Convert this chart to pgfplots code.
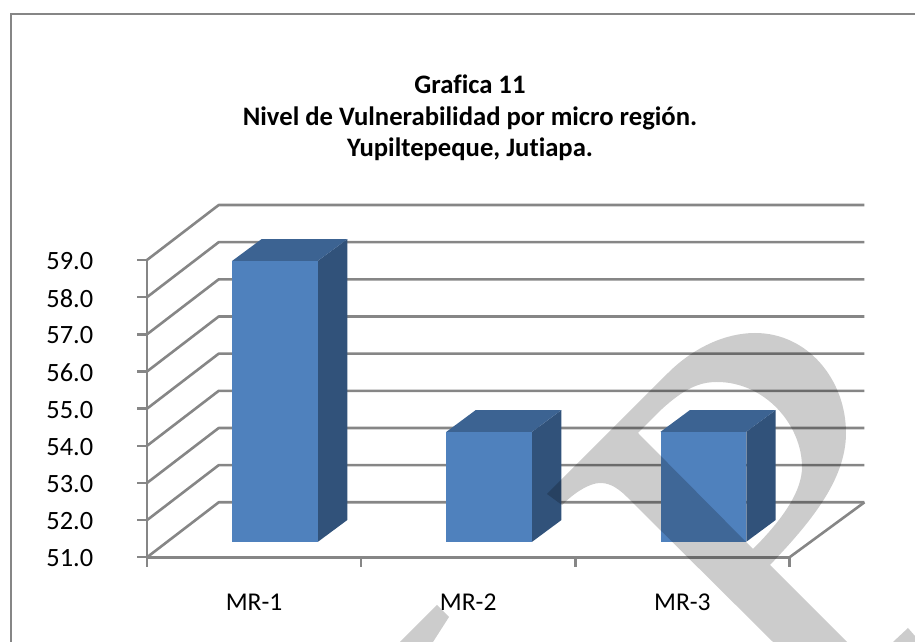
\documentclass[border=0pt]{standalone}
\usepackage{pgfplots}
\pgfplotsset{compat=1.18}
\usepackage{fontspec}
\setmainfont[Ligatures=NoCommon]{Carlito}
\newlength\p
\setlength\p{0.75pt}
\definecolor{gridc}{HTML}{868686}
\definecolor{front}{HTML}{4F81BD}
\definecolor{topf}{HTML}{3C6392}
\definecolor{sidef}{HTML}{31527A}
% grid line: left wall diagonal, then back wall (value, value seen on the back wall)
\newcommand\gl[2]{\addplot[gridc,line width=2.6\p,line join=round] coordinates {(0,#1)(0.335,#2)(3.35,#2)};}
% bar: left x, right x, value
\newcommand\barr[3]{%
  \addplot[draw=none,fill=front,shift={(21\p,15.5\p)}] coordinates {(#1,51)(#2,51)(#2,#3)(#1,#3)} -- cycle;
}
\begin{document}
\begin{tikzpicture}
\useasboundingbox (-147\p,557.3\p-642\p) rectangle (915\p-147\p,557.3\p);
\begin{axis}[
  anchor=south west, at={(0,0)},
  scale only axis, width=642.5\p, height=297.3\p,
  xmin=0, xmax=3, ymin=51, ymax=59, clip=false,
  axis x line*=bottom, axis y line*=left,
  axis line style={gridc,line width=2.6\p,-},
  tick style={gridc,line width=2.4\p},
  major tick length=9.5\p, tick align=outside,
  xtick={0,1,2,3}, xticklabels={},
  extra x ticks={0.5,1.5,2.5},
  extra x tick labels={MR-1,MR-2,MR-3},
  extra x tick style={tick style={draw=none},
    xticklabel style={anchor=base,yshift=-43.5\p}},
  ytick={51,52,53,54,55,56,57,58,59},
  yticklabel style={anchor=east,xshift=-39.5\p,yshift=-1\p,font=\fontsize{19.8pt}{21pt}\selectfont},
  xticklabel style={font=\fontsize{19.2pt}{21pt}\selectfont},
  /pgf/number format/.cd, fixed, fixed zerofill, precision=1, assume math mode=true, /pgfplots/.cd,
]
\gl{51}{52.48}\gl{52}{53.48}\gl{53}{54.48}\gl{54}{55.48}\gl{55}{56.48}
\gl{56}{57.48}\gl{57}{58.48}\gl{58}{59.48}\gl{59}{60.48}
\addplot[gridc,line width=2.6\p] coordinates {(3,51)(3.35,52.48)};
% MR-1
\addplot[draw=none,fill=sidef,shift={(21\p,15.5\p)}] coordinates {(0.7,51)(0.837,51.585)(0.837,59.145)(0.7,58.56)} -- cycle;
\addplot[draw=none,fill=topf,shift={(21\p,15.5\p)}] coordinates {(0.3,58.56)(0.7,58.56)(0.837,59.145)(0.437,59.145)} -- cycle;
\barr{0.3}{0.7}{58.56}
% MR-2
\addplot[draw=none,fill=sidef,shift={(21\p,15.5\p)}] coordinates {(1.7,51)(1.837,51.585)(1.837,54.545)(1.7,53.96)} -- cycle;
\addplot[draw=none,fill=topf,shift={(21\p,15.5\p)}] coordinates {(1.3,53.96)(1.7,53.96)(1.837,54.545)(1.437,54.545)} -- cycle;
\barr{1.3}{1.7}{53.96}
% MR-3
\addplot[draw=none,fill=sidef,shift={(21\p,15.5\p)}] coordinates {(2.7,51)(2.837,51.585)(2.837,54.545)(2.7,53.96)} -- cycle;
\addplot[draw=none,fill=topf,shift={(21\p,15.5\p)}] coordinates {(2.3,53.96)(2.7,53.96)(2.837,54.545)(2.437,54.545)} -- cycle;
\barr{2.3}{2.7}{53.96}
\end{axis}
\begin{scope}[shift={(-147\p,557.3\p)},x=\p,y=-\p]
  % outer frame
  \draw[gridc,line width=2.6\p] (11,642) -- (11,14) -- (915,14);
  % title
  \node[font=\fontsize{20pt}{23.6pt}\selectfont\bfseries,align=center,anchor=center] at (470,118)
    {Grafica 11\\Nivel de Vulnerabilidad por micro región.\\Yupiltepeque, Jutiapa.};
  % watermark
  \fill[black,opacity=0.2,even odd rule]
    (547,494) -- (668,373) .. controls (693,348) and (725,333) .. (755,333)
    .. controls (808,333) and (846,380) .. (846,433)
    .. controls (846,480) and (810,523) .. (770,565)
    -- (847,642) -- (773,642) -- (627,497)
    .. controls (615,485) and (607,483) .. (600,483)
    .. controls (590,483) and (575,492) .. (562,505) -- cycle
    (638,433) -- (662,409) .. controls (685,388) and (700,382) .. (717,382)
    .. controls (765,382) and (802,425) .. (802,467)
    .. controls (802,490) and (785,517) .. (753,549) -- cycle;
  \fill[black,opacity=0.2] (437,605) -- (449,617) -- (433,642) -- (400,642) -- cycle;
  \fill[black,opacity=0.2] (908,628) -- (915,636) -- (915,642) -- (893,642) -- cycle;
\end{scope}
\end{tikzpicture}
\end{document}
